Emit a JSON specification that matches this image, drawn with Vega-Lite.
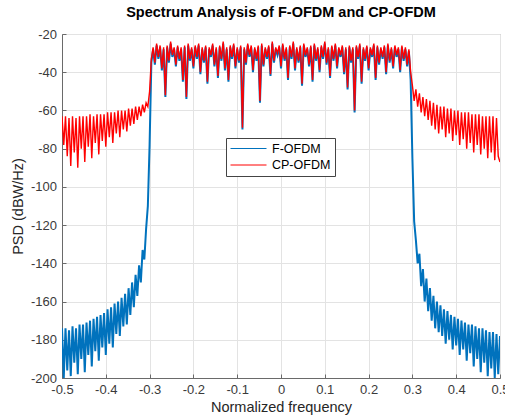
{
  "$schema": "https://vega.github.io/schema/vega-lite/v6.json",
  "width": 438,
  "height": 344,
  "autosize": {"type": "none"},
  "padding": {"left": 62, "top": 34, "right": 5, "bottom": 42},
  "background": "white",
  "title": {"text": "Spectrum Analysis of F-OFDM and CP-OFDM", "font": "Liberation Sans", "fontSize": 14.5, "fontWeight": "bold", "color": "#000000", "offset": 8, "anchor": "middle"},
  "config": {
    "view": {"stroke": "#a0a0a0", "strokeWidth": 1},
    "axis": {"labelFont": "Liberation Sans", "titleFont": "Liberation Sans", "labelFontSize": 13, "titleFontSize": 14.5, "labelColor": "#3a3a3a", "titleColor": "#262626", "titleFontWeight": "normal", "gridColor": "#e3e3e3", "gridWidth": 1, "domainColor": "#6a6a6a", "tickColor": "#6a6a6a", "tickSize": -4, "labelOverlap": false, "labelFlush": false, "labelBound": false},
    "legend": {"labelFont": "Liberation Sans"}
  },
  "data": {"values": [
    {"x": -0.5, "c": -63, "f": -174},
    {"x": -0.496, "c": -78, "f": -200},
    {"x": -0.492, "c": -63, "f": -174},
    {"x": -0.488, "c": -84, "f": -196},
    {"x": -0.484, "c": -64, "f": -175},
    {"x": -0.48, "c": -89, "f": -199},
    {"x": -0.476, "c": -63, "f": -173},
    {"x": -0.472, "c": -82, "f": -192},
    {"x": -0.468, "c": -64, "f": -174},
    {"x": -0.464, "c": -90, "f": -198},
    {"x": -0.46, "c": -63, "f": -172},
    {"x": -0.456, "c": -80, "f": -190},
    {"x": -0.452, "c": -63, "f": -172},
    {"x": -0.448, "c": -87, "f": -197},
    {"x": -0.444, "c": -63, "f": -171},
    {"x": -0.44, "c": -79, "f": -188},
    {"x": -0.436, "c": -62, "f": -170},
    {"x": -0.432, "c": -85, "f": -194},
    {"x": -0.428, "c": -63, "f": -169},
    {"x": -0.424, "c": -77, "f": -186},
    {"x": -0.42, "c": -62, "f": -168},
    {"x": -0.416, "c": -83, "f": -191},
    {"x": -0.412, "c": -62, "f": -167},
    {"x": -0.408, "c": -76, "f": -184},
    {"x": -0.404, "c": -62, "f": -166},
    {"x": -0.4, "c": -79, "f": -188},
    {"x": -0.396, "c": -61, "f": -164},
    {"x": -0.392, "c": -74, "f": -182},
    {"x": -0.388, "c": -61, "f": -163},
    {"x": -0.384, "c": -77, "f": -184},
    {"x": -0.38, "c": -61, "f": -161},
    {"x": -0.376, "c": -72, "f": -177},
    {"x": -0.372, "c": -60, "f": -160},
    {"x": -0.368, "c": -74, "f": -178},
    {"x": -0.364, "c": -60, "f": -158},
    {"x": -0.36, "c": -70, "f": -173},
    {"x": -0.356, "c": -60, "f": -156},
    {"x": -0.352, "c": -71, "f": -172},
    {"x": -0.348, "c": -59, "f": -153},
    {"x": -0.344, "c": -68, "f": -167},
    {"x": -0.34, "c": -59, "f": -150},
    {"x": -0.336, "c": -67, "f": -163},
    {"x": -0.332, "c": -58, "f": -146},
    {"x": -0.328, "c": -65, "f": -157},
    {"x": -0.324, "c": -58, "f": -141},
    {"x": -0.32, "c": -63, "f": -150},
    {"x": -0.316, "c": -57, "f": -133},
    {"x": -0.312, "c": -61, "f": -138},
    {"x": -0.308, "c": -56, "f": -122},
    {"x": -0.304, "c": -58, "f": -110},
    {"x": -0.3, "c": -50, "f": -78},
    {"x": -0.296, "c": -33, "f": -35},
    {"x": -0.292, "c": -27, "f": -28},
    {"x": -0.288, "c": -35, "f": -36},
    {"x": -0.284, "c": -25, "f": -26},
    {"x": -0.28, "c": -32, "f": -33},
    {"x": -0.276, "c": -26, "f": -27},
    {"x": -0.272, "c": -38, "f": -39},
    {"x": -0.268, "c": -27, "f": -28},
    {"x": -0.264, "c": -52, "f": -53},
    {"x": -0.26, "c": -26, "f": -27},
    {"x": -0.256, "c": -34, "f": -35},
    {"x": -0.252, "c": -24, "f": -25},
    {"x": -0.248, "c": -31, "f": -32},
    {"x": -0.244, "c": -27, "f": -28},
    {"x": -0.24, "c": -36, "f": -37},
    {"x": -0.236, "c": -26, "f": -27},
    {"x": -0.232, "c": -33, "f": -34},
    {"x": -0.228, "c": -27, "f": -28},
    {"x": -0.224, "c": -44, "f": -45},
    {"x": -0.22, "c": -26, "f": -27},
    {"x": -0.216, "c": -53, "f": -54},
    {"x": -0.212, "c": -25, "f": -26},
    {"x": -0.208, "c": -33, "f": -34},
    {"x": -0.204, "c": -27, "f": -28},
    {"x": -0.2, "c": -37, "f": -38},
    {"x": -0.196, "c": -26, "f": -27},
    {"x": -0.192, "c": -32, "f": -33},
    {"x": -0.188, "c": -25, "f": -26},
    {"x": -0.184, "c": -40, "f": -41},
    {"x": -0.18, "c": -27, "f": -28},
    {"x": -0.176, "c": -34, "f": -35},
    {"x": -0.172, "c": -26, "f": -27},
    {"x": -0.168, "c": -45, "f": -46},
    {"x": -0.164, "c": -27, "f": -28},
    {"x": -0.16, "c": -31, "f": -32},
    {"x": -0.156, "c": -25, "f": -26},
    {"x": -0.152, "c": -36, "f": -37},
    {"x": -0.148, "c": -27, "f": -28},
    {"x": -0.144, "c": -42, "f": -43},
    {"x": -0.14, "c": -26, "f": -27},
    {"x": -0.136, "c": -33, "f": -34},
    {"x": -0.132, "c": -24, "f": -25},
    {"x": -0.128, "c": -38, "f": -39},
    {"x": -0.124, "c": -27, "f": -28},
    {"x": -0.12, "c": -44, "f": -45},
    {"x": -0.116, "c": -26, "f": -27},
    {"x": -0.112, "c": -32, "f": -33},
    {"x": -0.108, "c": -25, "f": -26},
    {"x": -0.104, "c": -37, "f": -38},
    {"x": -0.1, "c": -27, "f": -28},
    {"x": -0.096, "c": -34, "f": -35},
    {"x": -0.092, "c": -26, "f": -27},
    {"x": -0.088, "c": -69, "f": -70},
    {"x": -0.084, "c": -27, "f": -28},
    {"x": -0.08, "c": -35, "f": -36},
    {"x": -0.076, "c": -25, "f": -26},
    {"x": -0.072, "c": -31, "f": -32},
    {"x": -0.068, "c": -26, "f": -27},
    {"x": -0.064, "c": -39, "f": -40},
    {"x": -0.06, "c": -27, "f": -28},
    {"x": -0.056, "c": -33, "f": -34},
    {"x": -0.052, "c": -26, "f": -27},
    {"x": -0.048, "c": -55, "f": -56},
    {"x": -0.044, "c": -25, "f": -26},
    {"x": -0.04, "c": -36, "f": -37},
    {"x": -0.036, "c": -27, "f": -28},
    {"x": -0.032, "c": -32, "f": -33},
    {"x": -0.028, "c": -26, "f": -27},
    {"x": -0.024, "c": -41, "f": -42},
    {"x": -0.02, "c": -24, "f": -25},
    {"x": -0.016, "c": -34, "f": -35},
    {"x": -0.012, "c": -27, "f": -28},
    {"x": -0.008, "c": -30, "f": -31},
    {"x": -0.004, "c": -26, "f": -27},
    {"x": 0, "c": -37, "f": -38},
    {"x": 0.004, "c": -25, "f": -26},
    {"x": 0.008, "c": -33, "f": -34},
    {"x": 0.012, "c": -27, "f": -28},
    {"x": 0.016, "c": -43, "f": -44},
    {"x": 0.02, "c": -26, "f": -27},
    {"x": 0.024, "c": -32, "f": -33},
    {"x": 0.028, "c": -24, "f": -25},
    {"x": 0.032, "c": -38, "f": -39},
    {"x": 0.036, "c": -27, "f": -28},
    {"x": 0.04, "c": -34, "f": -35},
    {"x": 0.044, "c": -26, "f": -27},
    {"x": 0.048, "c": -46, "f": -47},
    {"x": 0.052, "c": -25, "f": -26},
    {"x": 0.056, "c": -31, "f": -32},
    {"x": 0.06, "c": -27, "f": -28},
    {"x": 0.064, "c": -36, "f": -37},
    {"x": 0.068, "c": -26, "f": -27},
    {"x": 0.072, "c": -44, "f": -45},
    {"x": 0.076, "c": -25, "f": -26},
    {"x": 0.08, "c": -33, "f": -34},
    {"x": 0.084, "c": -27, "f": -28},
    {"x": 0.088, "c": -39, "f": -40},
    {"x": 0.092, "c": -26, "f": -27},
    {"x": 0.096, "c": -32, "f": -33},
    {"x": 0.1, "c": -24, "f": -25},
    {"x": 0.104, "c": -35, "f": -36},
    {"x": 0.108, "c": -27, "f": -28},
    {"x": 0.112, "c": -42, "f": -43},
    {"x": 0.116, "c": -26, "f": -27},
    {"x": 0.12, "c": -33, "f": -34},
    {"x": 0.124, "c": -25, "f": -26},
    {"x": 0.128, "c": -37, "f": -38},
    {"x": 0.132, "c": -27, "f": -28},
    {"x": 0.136, "c": -31, "f": -32},
    {"x": 0.14, "c": -26, "f": -27},
    {"x": 0.144, "c": -40, "f": -41},
    {"x": 0.148, "c": -27, "f": -28},
    {"x": 0.152, "c": -48, "f": -49},
    {"x": 0.156, "c": -26, "f": -27},
    {"x": 0.16, "c": -34, "f": -35},
    {"x": 0.164, "c": -27, "f": -28},
    {"x": 0.168, "c": -60, "f": -61},
    {"x": 0.172, "c": -26, "f": -27},
    {"x": 0.176, "c": -32, "f": -33},
    {"x": 0.18, "c": -25, "f": -26},
    {"x": 0.184, "c": -45, "f": -46},
    {"x": 0.188, "c": -27, "f": -28},
    {"x": 0.192, "c": -33, "f": -34},
    {"x": 0.196, "c": -26, "f": -27},
    {"x": 0.2, "c": -38, "f": -39},
    {"x": 0.204, "c": -27, "f": -28},
    {"x": 0.208, "c": -31, "f": -32},
    {"x": 0.212, "c": -25, "f": -26},
    {"x": 0.216, "c": -43, "f": -44},
    {"x": 0.22, "c": -26, "f": -27},
    {"x": 0.224, "c": -35, "f": -36},
    {"x": 0.228, "c": -27, "f": -28},
    {"x": 0.232, "c": -32, "f": -33},
    {"x": 0.236, "c": -26, "f": -27},
    {"x": 0.24, "c": -40, "f": -41},
    {"x": 0.244, "c": -25, "f": -26},
    {"x": 0.248, "c": -34, "f": -35},
    {"x": 0.252, "c": -27, "f": -28},
    {"x": 0.256, "c": -37, "f": -38},
    {"x": 0.26, "c": -26, "f": -27},
    {"x": 0.264, "c": -31, "f": -32},
    {"x": 0.268, "c": -27, "f": -28},
    {"x": 0.272, "c": -39, "f": -40},
    {"x": 0.276, "c": -26, "f": -27},
    {"x": 0.28, "c": -33, "f": -34},
    {"x": 0.284, "c": -27, "f": -28},
    {"x": 0.288, "c": -36, "f": -37},
    {"x": 0.292, "c": -28, "f": -29},
    {"x": 0.296, "c": -40, "f": -44},
    {"x": 0.3, "c": -47, "f": -85},
    {"x": 0.304, "c": -55, "f": -118},
    {"x": 0.308, "c": -49, "f": -128},
    {"x": 0.312, "c": -58, "f": -140},
    {"x": 0.316, "c": -51, "f": -135},
    {"x": 0.32, "c": -61, "f": -152},
    {"x": 0.324, "c": -53, "f": -143},
    {"x": 0.328, "c": -63, "f": -160},
    {"x": 0.332, "c": -54, "f": -148},
    {"x": 0.336, "c": -65, "f": -165},
    {"x": 0.34, "c": -55, "f": -153},
    {"x": 0.344, "c": -68, "f": -170},
    {"x": 0.348, "c": -56, "f": -157},
    {"x": 0.352, "c": -70, "f": -174},
    {"x": 0.356, "c": -57, "f": -160},
    {"x": 0.36, "c": -72, "f": -176},
    {"x": 0.364, "c": -58, "f": -162},
    {"x": 0.368, "c": -70, "f": -178},
    {"x": 0.372, "c": -58, "f": -164},
    {"x": 0.376, "c": -74, "f": -182},
    {"x": 0.38, "c": -59, "f": -165},
    {"x": 0.384, "c": -72, "f": -180},
    {"x": 0.388, "c": -59, "f": -167},
    {"x": 0.392, "c": -76, "f": -185},
    {"x": 0.396, "c": -60, "f": -168},
    {"x": 0.4, "c": -73, "f": -183},
    {"x": 0.404, "c": -60, "f": -169},
    {"x": 0.408, "c": -78, "f": -188},
    {"x": 0.412, "c": -61, "f": -170},
    {"x": 0.416, "c": -75, "f": -185},
    {"x": 0.42, "c": -61, "f": -171},
    {"x": 0.424, "c": -80, "f": -191},
    {"x": 0.428, "c": -61, "f": -172},
    {"x": 0.432, "c": -77, "f": -187},
    {"x": 0.436, "c": -62, "f": -172},
    {"x": 0.44, "c": -82, "f": -194},
    {"x": 0.444, "c": -62, "f": -173},
    {"x": 0.448, "c": -78, "f": -190},
    {"x": 0.452, "c": -62, "f": -174},
    {"x": 0.456, "c": -83, "f": -197},
    {"x": 0.46, "c": -63, "f": -174},
    {"x": 0.464, "c": -80, "f": -192},
    {"x": 0.468, "c": -63, "f": -175},
    {"x": 0.472, "c": -85, "f": -199},
    {"x": 0.476, "c": -63, "f": -176},
    {"x": 0.48, "c": -82, "f": -195},
    {"x": 0.484, "c": -63, "f": -176},
    {"x": 0.488, "c": -86, "f": -200},
    {"x": 0.492, "c": -64, "f": -177},
    {"x": 0.496, "c": -84, "f": -198},
    {"x": 0.5, "c": -87, "f": -178}
  ]},
  "layer": [
    {
      "mark": {"type": "line", "strokeWidth": 2, "clip": true},
      "encoding": {
        "x": {"field": "x", "type": "quantitative", "scale": {"domain": [-0.5, 0.5], "nice": false, "zero": false}, "axis": {"title": "Normalized frequency", "values": [-0.5, -0.4, -0.3, -0.2, -0.1, 0, 0.1, 0.2, 0.3, 0.4, 0.5], "tickCount": 20, "labelExpr": "'' + datum.value", "labelPadding": 9, "titlePadding": 4, "labelOverlap": false, "labelFlush": false}},
        "y": {"field": "f", "type": "quantitative", "scale": {"domain": [-200, -20], "nice": false, "zero": false}, "axis": {"title": "PSD (dBW/Hz)", "values": [-200, -180, -160, -140, -120, -100, -80, -60, -40, -20], "tickCount": 20, "labelExpr": "'' + datum.value", "labelPadding": 9.5, "titlePadding": 5, "labelOverlap": false, "labelFlush": false}},
        "color": {"datum": "F-OFDM", "type": "nominal", "scale": {"domain": ["F-OFDM", "CP-OFDM"], "range": ["#0072BD", "#FF0000"]}, "legend": {"title": null, "orient": "none", "legendX": 164, "legendY": 104, "fillColor": "white", "strokeColor": "#444444", "padding": 4, "symbolType": "M-1,0H5", "symbolSize": 144, "symbolStrokeWidth": 1, "labelFontSize": 12.5, "labelColor": "#000000", "labelOffset": 29, "rowPadding": 3.5}}
      }
    },
    {
      "mark": {"type": "line", "strokeWidth": 1.4, "clip": true},
      "encoding": {
        "x": {"field": "x", "type": "quantitative"},
        "y": {"field": "c", "type": "quantitative"},
        "color": {"datum": "CP-OFDM", "type": "nominal"}
      }
    }
  ]
}
